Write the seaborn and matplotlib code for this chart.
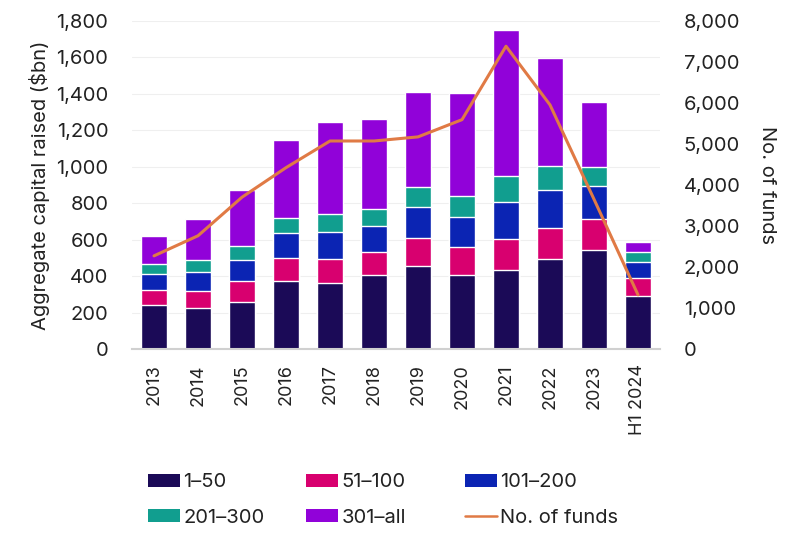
import numpy as np
import pandas as pd
import matplotlib
matplotlib.use("Agg")
import matplotlib.pyplot as plt
import seaborn as sns
from matplotlib.patches import Patch
from matplotlib.lines import Line2D
from matplotlib.ticker import FuncFormatter

years = ["2013", "2014", "2015", "2016", "2017", "2018", "2019", "2020",
         "2021", "2022", "2023", "H1 2024"]
s_1_50 = [242, 225, 258, 373, 362, 406, 456, 406, 434, 494, 543, 291]
s_51_100 = [82, 93, 115, 127, 132, 127, 153, 154, 170, 170, 171, 99]
s_101_200 = [88, 105, 116, 137, 148, 142, 171, 165, 203, 209, 181, 88]
s_201_300 = [55, 66, 76, 82, 99, 94, 109, 115, 143, 132, 104, 55]
s_301_all = [153, 225, 308, 428, 505, 494, 522, 565, 801, 593, 357, 54]
n_funds = [2270, 2760, 3700, 4420, 5070, 5070, 5170, 5590, 7380, 5950, 3650, 1320]

series_names = ["1\u201350", "51\u2013100", "101\u2013200", "201\u2013300", "301\u2013all"]
series = [s_1_50, s_51_100, s_101_200, s_201_300, s_301_all]
colors = ["#1b0a57", "#d8006f", "#0b24b3", "#119e8f", "#9102d9"]
line_color = "#e07a45"

sns.set_theme(style="white")
plt.rcParams["font.family"] = ["Inter", "DejaVu Sans"]
FS = 14.5
TXT = "#222222"

fig = plt.figure(figsize=(8, 5.47), dpi=100)
ax = fig.add_axes([0.165, 0.362, 0.66, 0.6])

cum = np.cumsum(np.array(series), axis=0)
df = pd.DataFrame({"year": years})
for i in range(len(series) - 1, -1, -1):
    df["v"] = cum[i]
    sns.barplot(data=df, x="year", y="v", color=colors[i], width=0.57,
                saturation=1, ax=ax, zorder=2)

ax.set_ylim(0, 1800)
ax.set_xlim(-0.5, 11.5)
ax.set_yticks(np.arange(0, 1801, 200))
ax.yaxis.set_major_formatter(FuncFormatter(lambda v, p: f"{int(v):,}"))
ax.grid(axis="y", color="#efefef", linewidth=0.8, zorder=0)
ax.set_axisbelow(True)
for sp in ["top", "right", "left"]:
    ax.spines[sp].set_visible(False)
ax.spines["bottom"].set_color("#d0d0d0")
ax.spines["bottom"].set_linewidth(1.5)
ax.tick_params(axis="y", length=0, labelsize=FS, colors=TXT, pad=17)
ax.tick_params(axis="x", length=0, labelsize=13, colors=TXT, rotation=90, pad=11)
ax.set_xlabel("")
ax.set_ylabel("Aggregate capital raised ($bn)", fontsize=FS, color=TXT)
ax.yaxis.set_label_coords(-0.155, 0.5)

ax2 = ax.twinx()
sns.lineplot(x=np.arange(len(years)), y=n_funds, color=line_color, linewidth=2.2, ax=ax2)
ax2.set_ylim(0, 8000)
ax2.set_yticks(np.arange(0, 8001, 1000))
ax2.yaxis.set_major_formatter(FuncFormatter(lambda v, p: f"{int(v):,}"))
for sp in ["top", "right", "left", "bottom"]:
    ax2.spines[sp].set_visible(False)
ax2.tick_params(axis="y", length=0, labelsize=FS, colors=TXT, pad=17)
ax2.set_ylabel("No. of funds", fontsize=FS, color=TXT, rotation=270)
ax2.yaxis.set_label_coords(1.22, 0.5)
ax2.grid(False)

handles = [Patch(facecolor=c, edgecolor="none") for c in colors]
handles.append(Line2D([0], [0], color=line_color, linewidth=1.8))
labels = series_names + ["No. of funds"]

col_x = [148, 306, 465]
columns = [[0, 3], [1, 4], [2, 5]]
for cx, idx in zip(col_x, columns):
    leg = fig.legend([handles[i] for i in idx], [labels[i] for i in idx],
                     loc="center left", bbox_to_anchor=(cx / 800, 1 - 500 / 547),
                     bbox_transform=fig.transFigure, frameon=False, fontsize=FS,
                     handlelength=1.6, handleheight=0.65, handletextpad=0.15,
                     labelspacing=0.85, borderpad=0, borderaxespad=0)
    for t in leg.get_texts():
        t.set_color(TXT)

fig.savefig("out.png", dpi=100)
